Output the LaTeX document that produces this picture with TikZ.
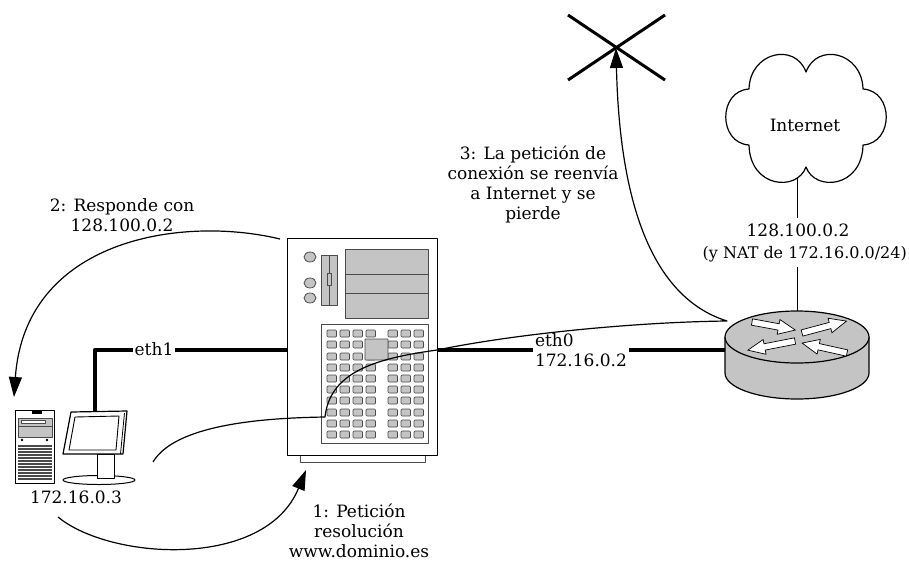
\documentclass[tikz,border=0pt]{standalone}
\usepackage{fontspec}
\setmainfont{DejaVu Serif}
\usetikzlibrary{arrows.meta}
\definecolor{devfill}{HTML}{C4C4C4}
\definecolor{devedge}{HTML}{4A4A4A}
% white arrow on the router lid: tail x, tail y, direction, length
\newcommand{\routerarrow}[4]{%
  \draw[rtrarrow, shift={(#1,#2)}, rotate=#3]
    (0,-3.2) -- ({#4-17},-3.2) -- ({#4-17},-7.5) -- (#4,0) -- ({#4-17},7.5) -- ({#4-17},3.2) -- (0,3.2) -- cycle;}
\begin{document}
\begin{tikzpicture}[x=1pt,y=-1pt, line join=round,
  txt/.style={font=\fontsize{17}{20}\selectfont, align=center, inner sep=1pt},
  flow/.style={line width=1.2pt, -{Triangle[length=20pt,width=13pt]}},
  link/.style={line width=4.5pt},
  thinlink/.style={line width=0.8pt},
  part/.style={draw=devedge, fill=devfill, line width=0.8pt},
  key/.style={draw=devedge, fill=devfill, line width=0.7pt, rounded corners=1pt},
  rtrarrow/.style={draw=black, fill=white, line width=0.7pt, line join=miter},
]
\useasboundingbox (0,0) rectangle (909,562);

% ---------------- server ----------------
\draw[draw=devedge, fill=white, line width=0.8pt] (300,450) rectangle (425,462);
\node[draw, line width=1.2pt, fill=white, inner sep=0pt, minimum width=150pt,
      minimum height=217pt, anchor=north west] (server) at (287,238) {};
\foreach \y in {257,283,298} \draw[part] (310,\y) ellipse[x radius=6pt, y radius=5pt];
\draw[part] (321,255) rectangle (337,305);
\draw[devedge, line width=0.8pt] (329,255) -- (329,305);
\draw[part] (327,273) rectangle (331,285);
\draw[part] (345,249) rectangle (428,318);
\draw[devedge, line width=0.8pt] (345,274) -- (428,274) (345,293) -- (428,293);
\draw[draw=devedge, fill=white, line width=0.8pt] (321,324) rectangle (428,443);
\foreach \y in {330,341,353,364,375,386,397,409,420,431}
  \foreach \x in {327,340,353,366,388,401,414}
    \draw[key] (\x,\y) rectangle ++(9.5,7);
\draw[key, rounded corners=0.5pt] (365,339) rectangle (388,360);

% ---------------- client ----------------
\node[draw, line width=1.2pt, fill=white, inner sep=0pt, minimum width=39pt,
      minimum height=73pt, anchor=north west] (tower) at (15,410) {};
\fill (32,411) rectangle (42,413.5);
\draw[part] (18,418) rectangle (52,437);
\draw[devedge, line width=0.8pt] (18,426) -- (52,426);
\draw[part, fill=white] (21,420) rectangle (45,423.5);
\fill (22,440) circle (1.3pt) (47,440) circle (1.3pt);
\foreach \y in {446,449,...,480} \draw[devedge, line width=1.3pt] (18,\y) -- (52,\y);
\draw[line width=1pt, fill=white] (99,480) ellipse[x radius=36pt, y radius=4.5pt];
\draw[line width=1pt, fill=white] (97,454) rectangle (114,478);
\draw[line width=1.2pt, fill=white] (71,412) -- (127,411) -- (123,454) -- (63,454) -- cycle;
\draw[line width=0.8pt] (124.5,413) -- (120.5,454);
\draw[line width=0.9pt, fill=white] (75,417) -- (119,416) -- (116,450) -- (69,450) -- cycle;
\coordinate (mon-top) at (95,411);

% ---------------- router ----------------
\path[draw=black, fill=devfill, line width=1.2pt] (725,337) -- (725,373)
  arc[start angle=180, end angle=360, x radius=72pt, y radius=26pt] -- (869,337);
\draw[fill=devfill, line width=1.2pt] (797,337) ellipse[x radius=72pt, y radius=26pt];
\routerarrow{752}{322}{-10.5}{44}
\routerarrow{802}{333}{15}{46}
\routerarrow{795}{341}{-169}{48}
\routerarrow{847}{353}{167.5}{46}
\coordinate (rtr-n) at (797,311);
\coordinate (rtr-w) at (725,350);
\coordinate (rtr-in) at (727,321);

% ---------------- internet cloud ----------------
\draw[line width=1.2pt, fill=white] (749,89) .. controls (750,52) and (795,42) .. (806,72)
  .. controls (817,42) and (862,52) .. (863,89)
  .. controls (894,91) and (894,143) .. (863,145)
  .. controls (862,188) and (815,192) .. (806,167)
  .. controls (797,192) and (750,188) .. (749,145)
  .. controls (718,143) and (718,91) .. (749,89) -- cycle;
\node[txt] (inet) at (805,125) {Internet};
\coordinate (cloud-s) at (797,178);

% ---------------- dropped request ----------------
\coordinate (lost) at (616,48);
\draw[line width=3pt, shift={(lost)}] (-48,-33) -- (49,32) (-48,32) -- (49,-33);

% ---------------- links ----------------
\coordinate (srv-eth1) at (287,350);
\coordinate (srv-eth0) at (437,350);
\draw[link] (mon-top) |- (srv-eth1);
\node[txt, fill=white, inner sep=2pt] (eth1) at (154,349) {eth1};
\draw[link] (srv-eth0) -- (rtr-w);
\node[txt, fill=white, align=left, inner xsep=2.5pt] (eth0) at (581,350) {eth0\\172.16.0.2};
\draw[thinlink] (cloud-s) -- (rtr-n);
\node[txt, fill=white, inner ysep=6pt] (wan-ip) at (798,230) {128.100.0.2};
\node[txt, fill=white, font=\fontsize{16}{20}\selectfont, inner ysep=5pt, anchor=east]
  (wan-nat) at (908,254) {(y NAT de 172.16.0.0/24)};

% ---------------- message flow ----------------
\coordinate (req0) at (153,462);
\coordinate (req1) at (325,417);
\draw[flow] (req0) .. controls (175,425) and (260,418) .. (req1)
  .. controls (330,370) and (380,358) .. (srv-eth0)
  .. controls (520,333) and (640,322) .. (rtr-in)
  .. controls (660,300) and (620,220) .. (lost);
\coordinate (srv-nw) at (280,239);
\coordinate (cli-top) at (14,397);
\draw[flow] (srv-nw) .. controls (180,215) and (25,240) .. (cli-top);
\coordinate (cli-bot) at (58,517);
\coordinate (srv-base) at (306,470);
\draw[flow] (cli-bot) .. controls (110,560) and (265,570) .. (srv-base);

% ---------------- labels ----------------
\node[txt] (lbl2) at (122,215) {2: Responde con\\128.100.0.2};
\node[txt] (lbl3) at (533,184) {3: La petición de\\conexión se reenvía\\a Internet y se\\pierde};
\node[txt] (lbl1) at (359,531) {1: Petición\\resolución\\www.dominio.es};
\node[txt] (cli-ip) at (76,497) {172.16.0.3};
\end{tikzpicture}
\end{document}
